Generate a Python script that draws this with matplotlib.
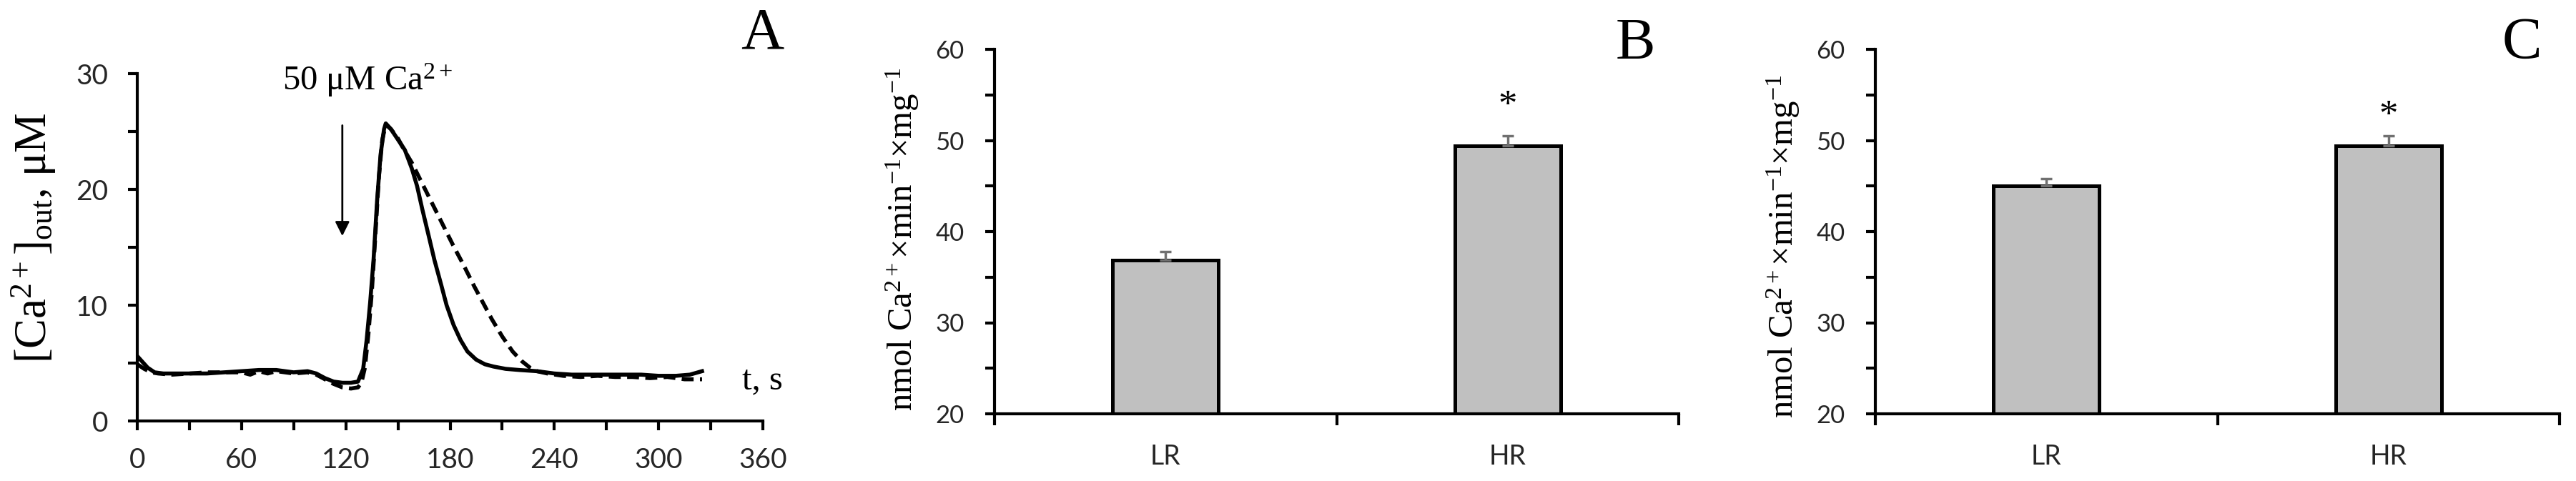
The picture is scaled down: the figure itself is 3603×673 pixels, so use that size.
import matplotlib
matplotlib.use("agg")
import matplotlib.pyplot as plt
from matplotlib.ticker import MultipleLocator, FixedLocator

plt.rcParams['mathtext.fontset'] = 'custom'
plt.rcParams['mathtext.rm'] = 'Liberation Serif'
plt.rcParams['mathtext.it'] = 'Liberation Serif:italic'

# panel A: extracellular Ca2+ traces
t_solid = [0, 3, 6, 10, 15, 20, 30, 40, 50, 60, 70, 80, 90, 98, 103, 108, 113, 118, 123,
           127, 130, 132, 134, 136, 138, 140, 142, 143, 146, 150, 154, 158, 161, 164, 168,
           171, 175, 178, 182, 186, 190, 195, 200, 205, 212, 220, 230, 240, 250, 260, 270,
           280, 290, 300, 310, 318, 325]
ca_solid = [5.6, 5.1, 4.6, 4.2, 4.1, 4.1, 4.1, 4.1, 4.2, 4.3, 4.4, 4.4, 4.2, 4.3, 4.1, 3.7,
            3.4, 3.3, 3.3, 3.4, 4.5, 7.0, 10.2, 14.0, 19.0, 23.0, 25.2, 25.7, 25.2, 24.3,
            23.4, 21.8, 20.3, 18.3, 15.8, 13.9, 11.7, 10.0, 8.3, 7.0, 6.0, 5.3, 4.9, 4.7,
            4.5, 4.4, 4.3, 4.1, 4.0, 4.0, 4.0, 4.0, 4.0, 3.9, 3.9, 4.0, 4.3]
t_dash = [0, 4, 8, 12, 20, 30, 40, 50, 60, 65, 70, 75, 80, 90, 98, 103, 108, 113, 118, 123,
          127, 129, 131, 133, 135, 137, 139, 141, 143, 146, 150, 154, 158, 163, 168, 175,
          182, 188, 194, 199, 204, 210, 216, 221, 226, 230, 236, 245, 255, 265, 275, 285,
          295, 305, 315, 325]
ca_dash = [4.9, 4.5, 4.2, 4.1, 4.0, 4.1, 4.2, 4.2, 4.2, 4.0, 4.3, 4.1, 4.3, 4.1, 4.2, 4.0,
           3.6, 3.2, 2.9, 2.8, 2.9, 3.3, 4.6, 7.5, 11.2, 16.0, 21.0, 24.3, 25.6, 25.2, 24.4,
           23.3, 22.3, 20.8, 19.3, 17.2, 15.1, 13.4, 11.6, 10.2, 8.8, 7.3, 6.0, 5.2, 4.6,
           4.3, 4.1, 3.9, 3.8, 3.9, 3.8, 3.8, 3.7, 3.8, 3.6, 3.6]

# panels B and C
groups = ['LR', 'HR']
rate_B = [36.9, 49.4]
err_B = [0.9, 1.1]
rate_C = [45.0, 49.4]
err_C = [0.8, 1.1]

W, H = 3603, 673
fig = plt.figure(figsize=(W / 100, H / 100), dpi=100)

serif = 'Liberation Serif'
sans = 'Lato'
tick_col = '#262626'


def style_axes(ax, lab_size):
    for s in ['top', 'right']:
        ax.spines[s].set_visible(False)
    for s in ['left', 'bottom']:
        ax.spines[s].set_linewidth(3)
    for lab in ax.get_xticklabels() + ax.get_yticklabels():
        lab.set_family(sans)
        lab.set_fontsize(lab_size)
        lab.set_color(tick_col)


# ---- A ----
axA = fig.add_axes([192 / W, 1 - 589 / H, 875 / W, 486 / H])
axA.plot(t_solid, ca_solid, color='black', lw=4, solid_joinstyle='round')
axA.plot(t_dash, ca_dash, color='black', lw=4, linestyle=(0, (3, 1.6)))
axA.set_xlim(0, 360)
axA.set_ylim(0, 30)
axA.xaxis.set_major_locator(MultipleLocator(60))
axA.xaxis.set_minor_locator(MultipleLocator(30))
axA.yaxis.set_major_locator(MultipleLocator(10))
axA.yaxis.set_minor_locator(MultipleLocator(5))
axA.tick_params(which='both', direction='out', length=9.5, width=3)
axA.tick_params(axis='y', pad=20)
axA.tick_params(axis='x', pad=17)
style_axes(axA, 28)
axA.annotate('', xy=(118, 15.8), xytext=(118, 25.7),
             arrowprops=dict(arrowstyle='-|>,head_length=0.4,head_width=0.2',
                             color='black', lw=2, mutation_scale=30))
axA.text(132.5, 28.6, '50 μM Ca$^{2+}$', ha='center', va='baseline',
         fontsize=35, family=serif, clip_on=False)
axA.text(348, 3.5, 't, s', ha='left', va='center', fontsize=35, family=serif)
fig.text(47 / W, 1 - 333 / H, r'[Ca$^{2+}$]$_{\mathrm{out}}$, μM', rotation=90,
         ha='center', va='center', fontsize=45, family=serif)
fig.text(1066 / W, 1 - 67 / H, 'A', ha='center', va='baseline', fontsize=60, family=serif)


# ---- B, C ----
def bar_panel(left, vals, errs, star_y, label_y):
    ax = fig.add_axes([left / W, 1 - 579 / H, 957 / W, 510 / H])
    x = [0, 1]
    ax.bar(x, vals, width=0.31, color='#c0c0c0', edgecolor='black', linewidth=3.6,
           yerr=[[0, 0], errs],
           error_kw=dict(ecolor='#707070', elinewidth=2.5, capsize=6, capthick=2.5))
    ax.set_xlim(-0.5, 1.5)
    ax.set_ylim(20, 60)
    ax.set_xticks(x)
    ax.set_xticklabels(groups)
    ax.xaxis.set_minor_locator(FixedLocator([-0.5, 0.5, 1.5]))
    ax.tick_params(axis='x', which='major', length=0, pad=30)
    ax.tick_params(axis='x', which='minor', length=11.5, width=3)
    ax.yaxis.set_major_locator(MultipleLocator(10))
    ax.yaxis.set_minor_locator(MultipleLocator(5))
    ax.tick_params(axis='y', which='both', length=9.5, width=3, pad=21)
    style_axes(ax, 25)
    for lab in ax.get_xticklabels():
        lab.set_fontsize(27)
    ax.text(1, star_y, '*', ha='center', va='baseline', fontsize=38, family=serif)
    fig.text((left - 129) / W, 1 - label_y / H,
             'nmol Ca$^{2+}$×min$^{-1}$×mg$^{-1}$', rotation=90,
             ha='center', va='center', fontsize=35, family=serif)
    return ax


bar_panel(1391, rate_B, err_B, 52.7, 335)
fig.text(2287 / W, 1 - 82 / H, 'B', ha='center', va='baseline', fontsize=60, family=serif)
bar_panel(2623, rate_C, err_C, 51.6, 345)
fig.text(3527 / W, 1 - 81 / H, 'C', ha='center', va='baseline', fontsize=60, family=serif)

fig.savefig('out.png', dpi=100)
plt.close(fig)
